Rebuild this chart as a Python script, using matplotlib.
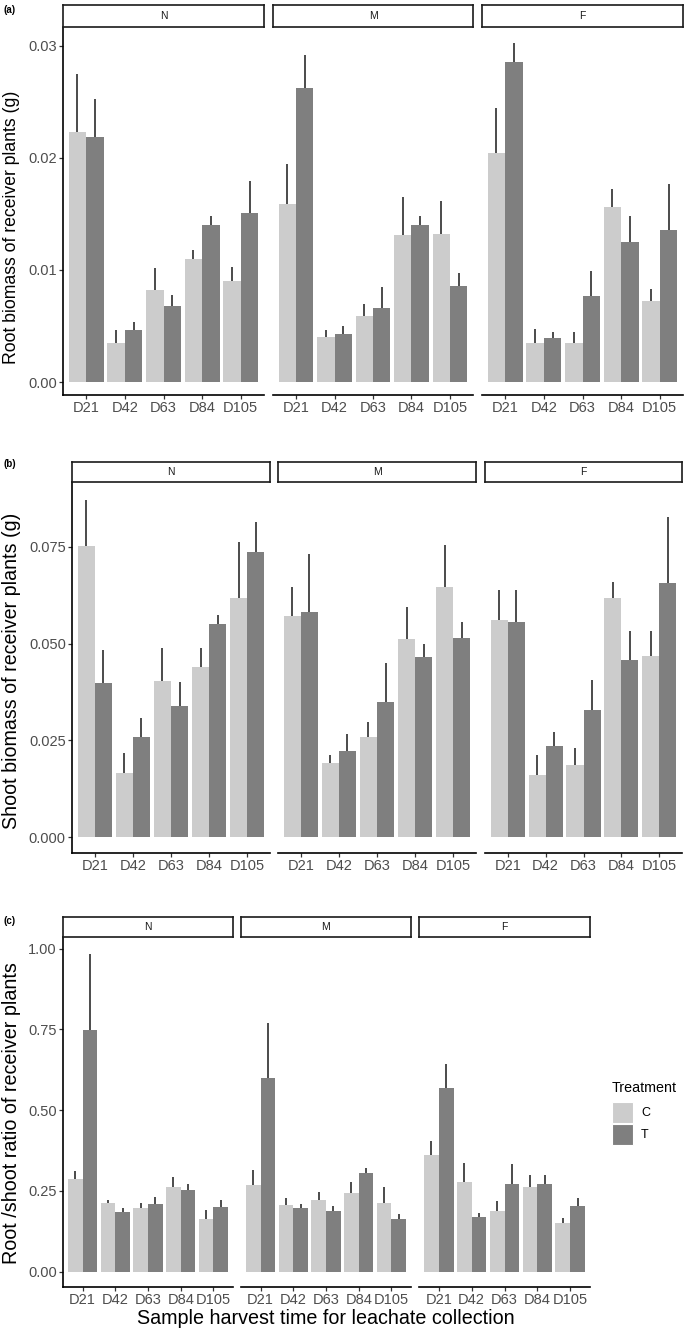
import numpy as np
import matplotlib
matplotlib.use("Agg")
import matplotlib.pyplot as plt
from matplotlib.patches import Rectangle

plt.rcParams['font.family'] = ['Liberation Sans', 'DejaVu Sans']

# ---------------- data ----------------
days = ["D21", "D42", "D63", "D84", "D105"]
sites = ["N", "M", "F"]
treatments = ["C", "T"]

# (a) root biomass (g): means and upper standard errors
root_C_mean = {"N": [0.0223, 0.0035, 0.0082, 0.0110, 0.0090],
               "M": [0.0159, 0.0040, 0.0059, 0.0131, 0.0132],
               "F": [0.0204, 0.0035, 0.0035, 0.0156, 0.0072]}
root_C_se = {"N": [0.0052, 0.0011, 0.0020, 0.0008, 0.0013],
             "M": [0.0036, 0.0006, 0.0011, 0.0034, 0.0030],
             "F": [0.0041, 0.0012, 0.0010, 0.0016, 0.0011]}
root_T_mean = {"N": [0.0219, 0.0046, 0.0068, 0.0140, 0.0151],
               "M": [0.0262, 0.0043, 0.0066, 0.0140, 0.0086],
               "F": [0.0286, 0.0039, 0.0077, 0.0125, 0.0136]}
root_T_se = {"N": [0.0034, 0.0008, 0.0010, 0.0008, 0.0028],
             "M": [0.0030, 0.0007, 0.0019, 0.0008, 0.0011],
             "F": [0.0017, 0.0006, 0.0022, 0.0023, 0.0041]}

# (b) shoot biomass (g)
shoot_C_mean = {"N": [0.0753, 0.0166, 0.0403, 0.0439, 0.0617],
                "M": [0.0572, 0.0191, 0.0258, 0.0512, 0.0647],
                "F": [0.0562, 0.0160, 0.0187, 0.0619, 0.0468]}
shoot_C_se = {"N": [0.0119, 0.0052, 0.0085, 0.0051, 0.0147],
              "M": [0.0075, 0.0022, 0.0039, 0.0084, 0.0109],
              "F": [0.0076, 0.0052, 0.0044, 0.0041, 0.0065]}
shoot_T_mean = {"N": [0.0399, 0.0259, 0.0338, 0.0552, 0.0737],
                "M": [0.0582, 0.0223, 0.0349, 0.0465, 0.0516],
                "F": [0.0556, 0.0236, 0.0329, 0.0459, 0.0658]}
shoot_T_se = {"N": [0.0086, 0.0049, 0.0063, 0.0021, 0.0078],
              "M": [0.0150, 0.0043, 0.0101, 0.0033, 0.0041],
              "F": [0.0084, 0.0035, 0.0078, 0.0075, 0.0170]}

# (c) root/shoot ratio
ratio_C_mean = {"N": [0.287, 0.213, 0.198, 0.263, 0.164],
                "M": [0.269, 0.208, 0.222, 0.245, 0.213],
                "F": [0.361, 0.278, 0.187, 0.263, 0.152]}
ratio_C_se = {"N": [0.026, 0.010, 0.015, 0.031, 0.027],
              "M": [0.047, 0.021, 0.026, 0.033, 0.050],
              "F": [0.043, 0.060, 0.032, 0.035, 0.015]}
ratio_T_mean = {"N": [0.747, 0.184, 0.211, 0.254, 0.200],
                "M": [0.601, 0.196, 0.187, 0.306, 0.163],
                "F": [0.567, 0.171, 0.273, 0.273, 0.205]}
ratio_T_se = {"N": [0.235, 0.014, 0.019, 0.019, 0.022],
              "M": [0.170, 0.014, 0.015, 0.015, 0.017],
              "F": [0.077, 0.012, 0.062, 0.026, 0.022]}

root_yticks = [0.00, 0.01, 0.02, 0.03]
root_yticklabels = ["0.00", "0.01", "0.02", "0.03"]
shoot_yticks = [0.000, 0.025, 0.050, 0.075]
shoot_yticklabels = ["0.000", "0.025", "0.050", "0.075"]
ratio_yticks = [0.00, 0.25, 0.50, 0.75, 1.00]
ratio_yticklabels = ["0.00", "0.25", "0.50", "0.75", "1.00"]

# ---------------- style ----------------
W, H = 685, 1333
COL = {"C": "#CCCCCC", "T": "#7F7F7F"}
TICKCOL = "#4D4D4D"

fig = plt.figure(figsize=(W / 100, H / 100), dpi=100)


def box(x0, y0, x1, y1):
    return [x0 / W, 1 - y1 / H, (x1 - x0) / W, (y1 - y0) / H]


panels = [
    dict(label="(a)", lab_xy=(3, 10), ylabel="Root biomass of receiver plants (g)", ylab_y=227,
         ylab_fs=12.7,
         facets=[(63, 264), (273, 473), (482, 683)], ytop=28, ybot=395, strip=(5, 27),
         ylim=(-0.00116, 0.0316), yt=root_yticks, ytl=root_yticklabels,
         Cm=root_C_mean, Cs=root_C_se, Tm=root_T_mean, Ts=root_T_se),
    dict(label="(b)", lab_xy=(3, 464), ylabel="Shoot biomass of receiver plants (g)", ylab_y=671,
         ylab_fs=14.1,
         facets=[(72, 270), (278, 476), (485, 682)], ytop=482, ybot=853, strip=(462, 482),
         ylim=(-0.0041, 0.0918), yt=shoot_yticks, ytl=shoot_yticklabels,
         Cm=shoot_C_mean, Cs=shoot_C_se, Tm=shoot_T_mean, Ts=shoot_T_se),
    dict(label="(c)", lab_xy=(3, 921), ylabel="Root /shoot ratio of receiver plants", ylab_y=1113,
         ylab_fs=14.2,
         facets=[(63, 233), (241, 411), (419, 590)], ytop=937, ybot=1287, strip=(917, 937),
         ylim=(-0.047, 1.0356), yt=ratio_yticks, ytl=ratio_yticklabels,
         Cm=ratio_C_mean, Cs=ratio_C_se, Tm=ratio_T_mean, Ts=ratio_T_se),
]

x = np.arange(1, len(days) + 1)
bw = 0.45

for p in panels:
    for i, (site, (x0, x1)) in enumerate(zip(sites, p["facets"])):
        ax = fig.add_axes(box(x0, p["ytop"], x1, p["ybot"]))
        ax.set_facecolor("none")
        ax.bar(x - bw / 2, p["Cm"][site], width=bw, color=COL["C"], zorder=2)
        ax.bar(x + bw / 2, p["Tm"][site], width=bw, color=COL["T"], zorder=2)
        cm = np.array(p["Cm"][site]); cs = np.array(p["Cs"][site])
        tm = np.array(p["Tm"][site]); ts = np.array(p["Ts"][site])
        ax.vlines(x - bw / 2, cm, cm + cs, color="#1a1a1a", lw=1.1, zorder=3)
        ax.vlines(x + bw / 2, tm, tm + ts, color="#1a1a1a", lw=1.1, zorder=3)
        ax.set_xlim(0.4, 5.6)
        ax.set_ylim(*p["ylim"])
        ax.set_xticks(x)
        ax.set_xticklabels(days)
        for s in ("top", "right"):
            ax.spines[s].set_visible(False)
        ax.spines["bottom"].set_linewidth(1.2)
        ax.spines["left"].set_linewidth(1.2)
        ax.tick_params(axis="x", length=3, width=0.9, color="#333333",
                       labelcolor=TICKCOL, labelsize=10.5, pad=1.5)
        if i == 0:
            ax.set_yticks(p["yt"])
            ax.set_yticklabels(p["ytl"])
            ax.tick_params(axis="y", length=3, width=0.9, color="#333333",
                           labelcolor=TICKCOL, labelsize=10.5, pad=1.5)
        else:
            ax.spines["left"].set_visible(False)
            ax.set_yticks([])
        # strip
        sa = fig.add_axes(box(x0, p["strip"][0], x1, p["strip"][1]))
        sa.set_xticks([]); sa.set_yticks([])
        for s in sa.spines.values():
            s.set_linewidth(1.2)
            s.set_color("#1a1a1a")
        sa.text(0.5, 0.5, site, ha="center", va="center", fontsize=7.5, color="#1a1a1a",
                transform=sa.transAxes)
    fig.text(p["lab_xy"][0] / W, 1 - p["lab_xy"][1] / H, p["label"], fontsize=7,
             fontweight="bold", ha="left", va="center")
    fig.text(12 / W, 1 - p["ylab_y"] / H, p["ylabel"], rotation=90, fontsize=p["ylab_fs"],
             ha="center", va="center")

fig.text(326 / W, 1 - 1318 / H, "Sample harvest time for leachate collection",
         fontsize=14.2, ha="center", va="center")

# legend
fig.text(612 / W, 1 - 1088 / H, "Treatment", fontsize=10.3, ha="left", va="center")
for k, (y0, y1) in zip(treatments, [(1102, 1123), (1124, 1145)]):
    fig.add_artist(Rectangle((612 / W, 1 - y1 / H), 21 / W, (y1 - y0) / H,
                             transform=fig.transFigure, facecolor=COL[k],
                             edgecolor="white", lw=0.8))
    fig.text(641 / W, 1 - (y0 + y1) / 2 / H, k, fontsize=9, ha="left", va="center")

fig.savefig("out.png", dpi=100, facecolor="white")
